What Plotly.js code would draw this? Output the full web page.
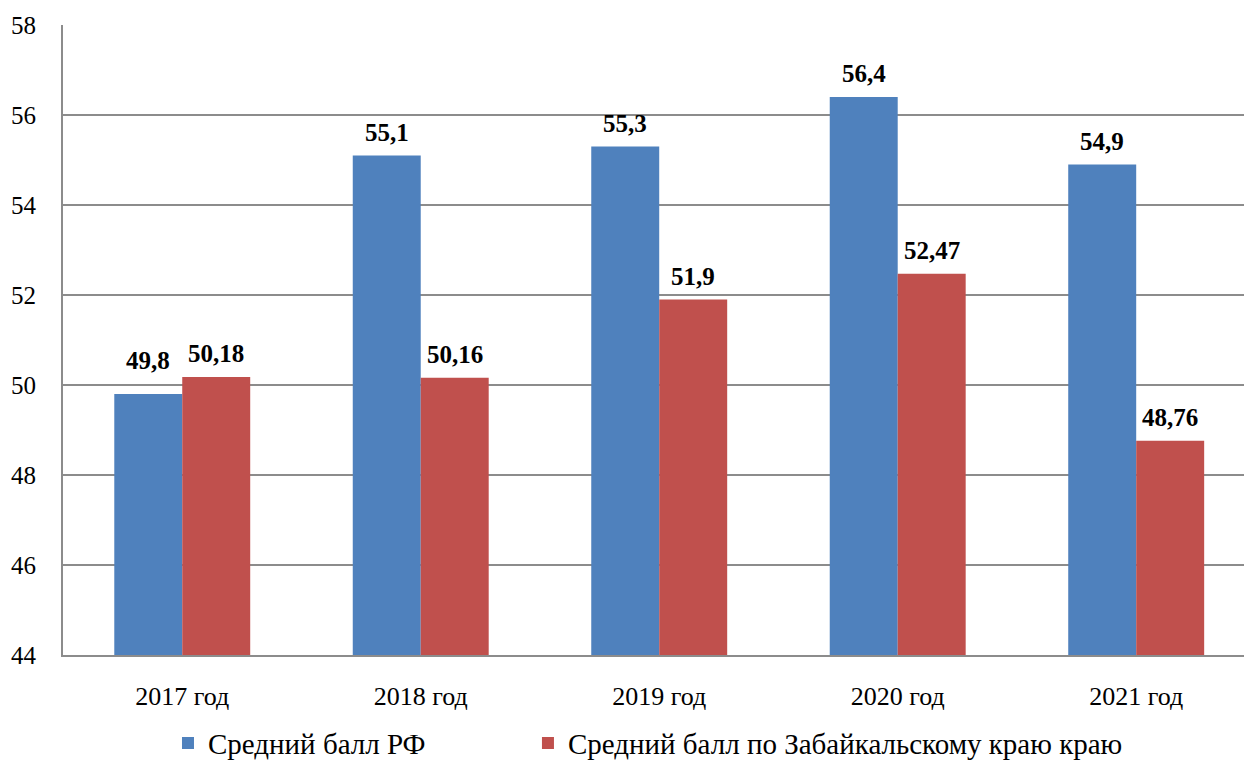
<!DOCTYPE html>
<html>
<head>
<meta charset="utf-8">
<script src="https://cdn.plot.ly/plotly-3.0.1.min.js"></script>
<style>html,body{margin:0;padding:0;background:#fff;}#chart{width:1244px;height:769px;}</style>
</head>
<body>
<div id="chart"></div>
<script>
const categories = ['2017 год', '2018 год', '2019 год', '2020 год', '2021 год'];
const seriesRF = [49.8, 55.1, 55.3, 56.4, 54.9];
const seriesZab = [50.18, 50.16, 51.9, 52.47, 48.76];
const labelsRF = ['49,8', '55,1', '55,3', '56,4', '54,9'];
const labelsZab = ['50,18', '50,16', '51,9', '52,47', '48,76'];
const nameRF = 'Средний балл РФ';
const nameZab = 'Средний балл по Забайкальскому краю краю';
const yTicks = [44, 46, 48, 50, 52, 54, 56, 58];

const FONT = 'Liberation Serif';
const BLUE = '#4F81BD';
const RED = '#C0504D';
const GRID = '#8C8C8C';

// extra vertical lift (px) of individual value labels, as placed in the original
const liftRF = [10, 0, 0, 0, 0];
const liftZab = [0, 0, 0, 0, 0];

const traces = [
  {type: 'bar', name: nameRF, x: categories, y: seriesRF, marker: {color: BLUE}, hoverinfo: 'skip', legend: 'legend'},
  {type: 'bar', name: nameZab, x: categories, y: seriesZab, marker: {color: RED}, hoverinfo: 'skip', legend: 'legend2'}
];

const labelFont = {family: FONT, size: 25, color: '#000', weight: 'bold'};
const annotations = [];
categories.forEach((c, i) => {
  annotations.push({x: c, y: seriesRF[i], text: labelsRF[i], showarrow: false, xanchor: 'center', yanchor: 'bottom', xshift: -34, yshift: 8 + liftRF[i], font: labelFont});
  annotations.push({x: c, y: seriesZab[i], text: labelsZab[i], showarrow: false, xanchor: 'center', yanchor: 'bottom', xshift: 34, yshift: 8 + liftZab[i], font: labelFont});
});

const legendBase = {
  orientation: 'h', yanchor: 'middle', y: -0.14, xanchor: 'left',
  font: {family: FONT, size: 29, color: '#000'}, itemwidth: 30, bgcolor: 'rgba(0,0,0,0)'
};

const layout = {
  width: 1244, height: 769,
  margin: {l: 63, r: 0, t: 25, b: 114},
  paper_bgcolor: '#fff', plot_bgcolor: '#fff',
  font: {family: FONT, color: '#000'},
  barmode: 'group', bargap: 0.43, bargroupgap: 0,
  xaxis: {
    type: 'category', range: [-0.5, 4.452], showgrid: false, zeroline: false,
    showline: true, linecolor: GRID, linewidth: 2, ticks: '',
    tickfont: {family: FONT, size: 26, color: '#000'}, ticklabelstandoff: 17
  },
  yaxis: {
    range: [44, 58], tickvals: yTicks, ticktext: yTicks.map(String),
    showgrid: true, gridcolor: GRID, gridwidth: 1.6, zeroline: false,
    showline: true, linecolor: GRID, linewidth: 2, ticks: '',
    tickfont: {family: FONT, size: 25, color: '#000'}, ticklabelstandoff: 20
  },
  showlegend: true,
  legend: Object.assign({}, legendBase, {x: 0.0889}),
  legend2: Object.assign({}, legendBase, {x: 0.3937}),
  annotations: annotations
};

Plotly.newPlot('chart', traces, layout, {displayModeBar: false, staticPlot: true});
</script>
</body>
</html>
